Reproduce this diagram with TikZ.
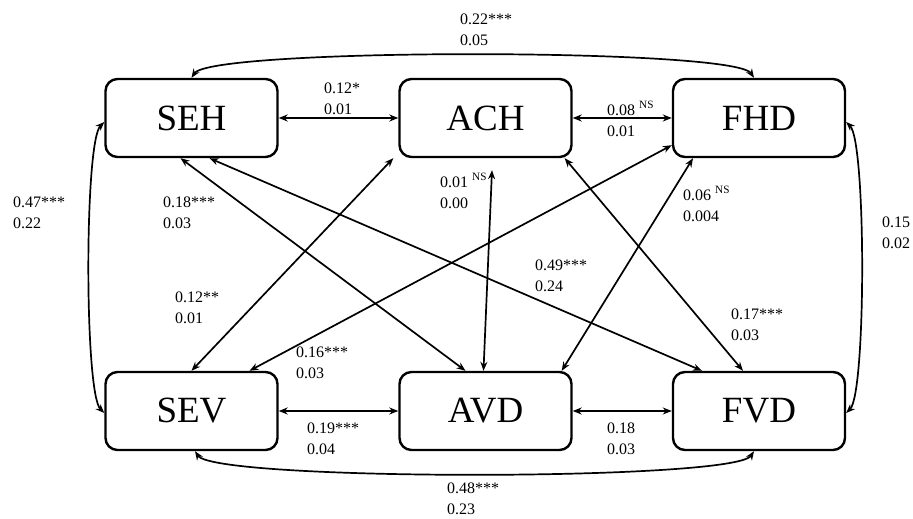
\documentclass[tikz,border=0pt]{standalone}
\usepackage{fontspec}
\setmainfont{Liberation Serif}
\usetikzlibrary{arrows.meta, calc}

\begin{document}
\begin{tikzpicture}[
  x=1pt, y=1pt,
  var/.style={
    draw, line width=2.4pt, rounded corners=12pt,
    minimum width=172pt, minimum height=78pt,
    font=\fontsize{37}{40}\selectfont, inner sep=0pt
  },
  coef/.style={font=\fontsize{16}{21}\selectfont, align=left, anchor=west, inner sep=0pt},
  link/.style={{Stealth[length=9pt, width=7pt]}-{Stealth[length=9pt, width=7pt]}, line width=1.7pt}
]
\useasboundingbox (0,0) rectangle (913,519);
% factors
\node[var] (SEH) at (191.5,401) {SEH};
\node[var] (ACH) at (485.5,401) {ACH};
\node[var] (FHD) at (759,401)   {FHD};
\node[var] (SEV) at (191.5,108) {SEV};
\node[var] (AVD) at (485.5,108) {AVD};
\node[var] (FVD) at (759,108)   {FVD};
% rows
\draw[link] (SEH.east) -- (ACH.west);
\draw[link] (ACH.east) -- (FHD.west);
\draw[link] (SEV.east) -- (AVD.west);
\draw[link] (AVD.east) -- (FVD.west);
% outer curves
\draw[link] (SEH.north) .. controls +(20,30) and +(-20,30) .. ([xshift=-5pt]FHD.north);
\draw[link] ([xshift=3.5pt]SEV.south) .. controls +(20,-30) and +(-20,-30) .. ([xshift=-5pt]FVD.south);
\draw[link] ([yshift=-4pt]SEH.west) .. controls +(-20,-20) and +(-20,20) .. ([yshift=-2pt]SEV.west);
\draw[link] ([yshift=-4pt]FHD.east) .. controls +(20,-20) and +(20,20) .. ([yshift=-2pt]FVD.east);
% cross links
\draw[link] ([xshift=-11pt]SEH.south) -- ([xshift=-20pt]AVD.north);
\draw[link] ([xshift=18pt]SEH.south) -- ([xshift=-57pt]FVD.north);
\draw[link] ([xshift=-5pt]ACH.south west) -- (SEV.north);
\draw[link, shorten <=12pt] ([xshift=7pt]ACH.south) -- ([xshift=-2pt]AVD.north);
\draw[link] ([xshift=-8pt]ACH.south east) -- ([xshift=-16pt]FVD.north);
\draw[link] ([yshift=13pt]FHD.south west) -- ([xshift=58pt]SEV.north);
\draw[link] ([xshift=-66pt]FHD.south) -- ([xshift=-11pt]AVD.north east);
% coefficients
\node[coef] (cSEHFHD) at (460,489) {0.22***\\0.05};
\node[coef] (cSEHACH) at (324,420) {0.12*\\0.01};
\node[coef] (cACHFHD) at (607,400) {0.08 \textsuperscript{NS}\\0.01};
\node[coef] (cSEHSEV) at (13,306)  {0.47***\\0.22};
\node[coef] (cSEHAVD) at (163,306) {0.18***\\0.03};
\node[coef] (cACHAVD) at (440,328) {0.01 \textsuperscript{NS}\\0.00};
\node[coef] (cFHDAVD) at (683,315) {0.06 \textsuperscript{NS}\\0.004};
\node[coef] (cFHDFVD) at (882,286) {0.15\\0.02};
\node[coef] (cSEHFVD) at (535,243) {0.49***\\0.24};
\node[coef] (cACHSEV) at (175,211) {0.12**\\0.01};
\node[coef] (cACHFVD) at (731,194) {0.17***\\0.03};
\node[coef] (cFHDSEV) at (296,156) {0.16***\\0.03};
\node[coef] (cSEVAVD) at (307,80)  {0.19***\\0.04};
\node[coef] (cAVDFVD) at (607,80)  {0.18\\0.03};
\node[coef] (cSEVFVD) at (447,20)  {0.48***\\0.23};
\end{tikzpicture}
\end{document}
